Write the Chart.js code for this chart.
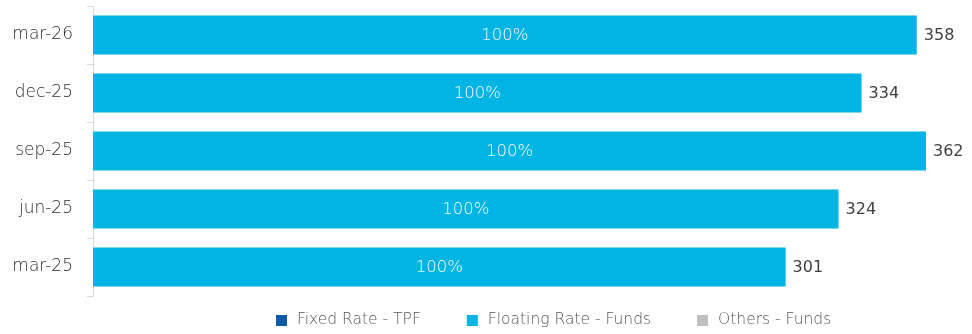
<!DOCTYPE html>
<html>
<head>
<meta charset="utf-8">
<script src="https://cdn.jsdelivr.net/npm/chart.js@4.4.1/dist/chart.umd.min.js"></script>
<style>
  html, body { margin: 0; padding: 0; background: #fff; }
  #wrap { width: 972px; height: 334px; }
</style>
</head>
<body>
<div id="wrap"><canvas id="myChart"></canvas></div>
<script>
// quarters, newest on top
const quarters = ['mar-26', 'dec-25', 'sep-25', 'jun-25', 'mar-25'];
const fixedRate = [0, 0, 0, 0, 0];
const floatingRate = [358, 334, 362, 324, 301];
const others = [0, 0, 0, 0, 0];

const FONT = "'DejaVu Sans', sans-serif";

// writes the share inside each segment and the total at the end of the bar
const barLabels = {
    id: 'barLabels',
    afterDatasetsDraw(chart) {
        const ctx = chart.ctx;
        const sets = chart.data.datasets;
        ctx.save();
        ctx.textBaseline = 'middle';
        quarters.forEach((q, i) => {
            const total = sets.reduce((s, d) => s + d.data[i], 0);
            sets.forEach((ds, di) => {
                if (!ds.data[i]) return;
                const bar = chart.getDatasetMeta(di).data[i];
                const pct = Math.round(ds.data[i] / total * 100) + '%';
                ctx.fillStyle = '#ffffff';
                ctx.font = '200 16.5px ' + FONT;
                ctx.textAlign = 'center';
                ctx.fillText(pct, (bar.x + bar.base) / 2, bar.y + 1);
            });
            const y = chart.getDatasetMeta(1).data[i].y;
            const endX = chart.scales.x.getPixelForValue(total);
            ctx.fillStyle = '#404040';
            ctx.font = '16px ' + FONT;
            ctx.textAlign = 'left';
            ctx.fillText(total, endX + 7, y + 1);
        });
        ctx.restore();
    }
};

// one-row legend under the plot
const legendRow = {
    id: 'legendRow',
    afterDraw(chart) {
        const ctx = chart.ctx;
        const y = chart.chartArea.bottom + 24;
        let x = 276;
        ctx.save();
        ctx.font = '200 15.5px ' + FONT;
        ctx.textBaseline = 'middle';
        ctx.textAlign = 'left';
        chart.data.datasets.forEach(ds => {
            ctx.fillStyle = ds.backgroundColor;
            ctx.fillRect(x, y - 5, 11, 11);
            ctx.fillStyle = '#555555';
            ctx.fillText(ds.label, x + 21, y);
            x += 21 + ctx.measureText(ds.label).width + 46;
        });
        ctx.restore();
    }
};

var ctx = document.getElementById('myChart').getContext('2d');

var myChart = new Chart(ctx, {
    type: 'bar',
    data: {
        labels: quarters,
        datasets: [{
            label: 'Fixed Rate - TPF',
            data: fixedRate,
            backgroundColor: '#0E5AA7'
        }, {
            label: 'Floating Rate - Funds',
            data: floatingRate,
            backgroundColor: '#00B4E3'
        }, {
            label: 'Others - Funds',
            data: others,
            backgroundColor: '#BFBFBF'
        }]
    },
    options: {
        indexAxis: 'y',
        responsive: true,
        maintainAspectRatio: false,
        animation: false,
        barPercentage: 0.67,
        categoryPercentage: 1,
        layout: { padding: { top: 6, right: 0, left: 0, bottom: 38 } },
        scales: {
            x: {
                stacked: true,
                display: false,
                min: 0,
                max: 382
            },
            y: {
                stacked: true,
                afterFit: (scale) => {
                    scale.width = 93;
                    scale.paddingTop = 0;
                    scale.paddingBottom = 0;
                },
                border: { display: true, color: '#D9D9D9', width: 1 },
                grid: {
                    display: true,
                    drawOnChartArea: false,
                    offset: true,
                    tickLength: 6,
                    color: '#D9D9D9'
                },
                ticks: {
                    padding: 14,
                    color: '#2E2E2E',
                    font: { family: FONT, size: 17, weight: '200' }
                }
            }
        },
        plugins: {
            legend: { display: false },
            tooltip: { enabled: false }
        }
    },
    plugins: [barLabels, legendRow]
});
</script>
</body>
</html>
